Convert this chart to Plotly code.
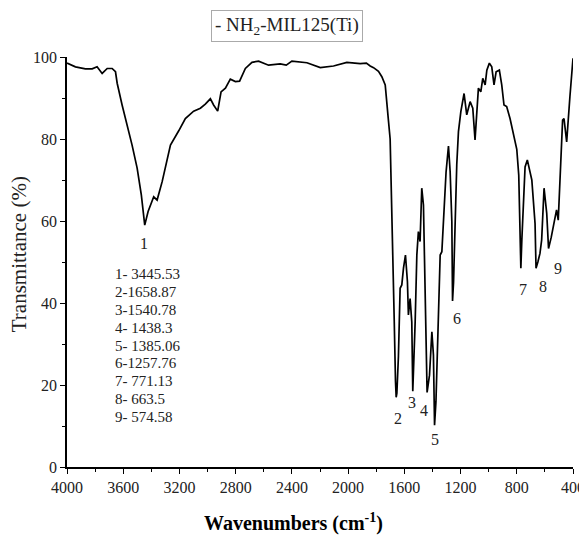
import plotly.graph_objects as go

# ---- data ----
wavenumber = [4000, 3940, 3869, 3821, 3786, 3750, 3714, 3679, 3655, 3643, 3608, 3572, 3537,
              3501, 3471, 3447, 3423, 3383, 3359, 3323, 3264, 3205, 3158, 3099, 3051, 3016,
              2980, 2957, 2928, 2904, 2873, 2838, 2802, 2772, 2731, 2684, 2637, 2566, 2483,
              2440, 2400, 2293, 2198, 2104, 2009, 1914, 1870, 1843, 1819, 1784, 1760, 1736,
              1724, 1713, 1701, 1696, 1688, 1682, 1672, 1663, 1658, 1653, 1642, 1630, 1618,
              1606, 1592, 1578, 1571, 1559, 1547, 1540, 1532, 1523, 1511, 1500, 1488, 1476,
              1464, 1452, 1438, 1421, 1404, 1393, 1385, 1375, 1369, 1357, 1345, 1333, 1322,
              1303, 1286, 1274, 1262, 1257, 1250, 1239, 1227, 1215, 1198, 1175, 1156, 1132,
              1113, 1097, 1084, 1073, 1056, 1042, 1025, 1013, 995, 978, 962, 947, 924, 907,
              891, 872, 848, 825, 800, 786, 777, 771, 764, 741, 725, 693, 670, 663, 650, 635,
              623, 606, 587, 574, 555, 540, 517, 505, 493, 474, 464, 445, 422, 400]
transmittance = [98.5, 97.6, 97.1, 97.1, 97.6, 96.0, 97.2, 97.2, 96.4, 93.6, 88.3, 83.4, 78.5,
                 72.9, 66.3, 59.0, 62.3, 65.9, 65.1, 69.6, 78.5, 82.0, 85.0, 86.8, 87.5, 88.5,
                 89.8, 88.3, 86.8, 91.5, 92.4, 94.6, 94.0, 94.1, 97.2, 98.7, 99.0, 98.0, 98.3,
                 98.0, 99.0, 98.6, 97.4, 97.8, 98.7, 98.4, 98.5, 97.8, 97.4, 96.5, 95.2, 93.2,
                 89.5, 84.5, 80.0, 73.0, 64.0, 55.0, 36.0, 21.0, 17.0, 18.0, 27.0, 43.6, 44.4,
                 48.5, 51.7, 45.2, 37.1, 41.1, 35.4, 18.5, 25.0, 35.4, 51.7, 57.4, 55.0, 68.0,
                 63.9, 43.6, 18.2, 22.4, 33.0, 27.3, 10.2, 16.0, 23.2, 43.6, 51.7, 52.5, 59.8,
                 72.0, 78.3, 72.0, 59.8, 40.5, 45.0, 59.8, 73.7, 81.8, 86.7, 91.1, 85.9, 89.1,
                 87.5, 79.8, 87.5, 92.4, 91.5, 94.8, 93.2, 96.8, 98.5, 97.6, 93.2, 96.4, 96.8, 93.2,
                 88.3, 87.9, 85.0, 81.0, 77.5, 71.2, 59.8, 48.5, 55.4, 73.2, 74.9, 70.0, 59.4, 48.5, 50.0, 52.1,
                 55.4, 68.0, 61.9, 53.3, 56.0, 58.6, 62.7, 60.2, 71.6, 84.6, 85.0, 79.3, 90.3, 99.7]

x_tick_vals = [4000, 3600, 3200, 2800, 2400, 2000, 1600, 1200, 800, 400]
y_tick_vals = [0, 20, 40, 60, 80, 100]

peak_numbers = ["1", "2", "3", "4", "5", "6", "7", "8", "9"]
peak_list = ["1- 3445.53", "2-1658.87", "3-1540.78", "4- 1438.3", "5- 1385.06",
             "6-1257.76", "7- 771.13", "8- 663.5", "9- 574.58"]

series_name = "NH<sub>2</sub>-MIL125(Ti)"

# ---- figure ----
SERIF = "Liberation Serif, Times New Roman, serif"
TXT = "#222222"

fig = go.Figure()
fig.add_trace(go.Scatter(x=wavenumber, y=transmittance, mode="lines",
                         line=dict(color="black", width=1.7), name=series_name,
                         showlegend=False))

# peak number labels (text placement, in data units)
label_pos = [(3454, 54.6), (1642, 11.9), (1547, 15.8), (1457, 13.7), (1381, 6.8),
             (1222, 36.3), (758, 43.3), (611, 44.1), (505, 48.5)]
for txt, (lx, ly) in zip(peak_numbers, label_pos):
    fig.add_annotation(x=lx, y=ly, text=txt, showarrow=False,
                       font=dict(family=SERIF, size=16, color=TXT),
                       xanchor="center", yanchor="middle")

# list of peak positions
list_x = 3670
list_top = 47.1
list_step = 4.37
for i, line in enumerate(peak_list):
    fig.add_annotation(x=list_x, y=list_top - i * list_step, text=line, showarrow=False,
                       font=dict(family=SERIF, size=15, color=TXT),
                       xanchor="left", yanchor="middle")

# legend-like title box
fig.add_annotation(xref="paper", yref="paper", x=0.435, y=1.0756,
                   text="- " + series_name, showarrow=False,
                   font=dict(family=SERIF, size=19, color=TXT),
                   bordercolor="#aaaaaa", borderwidth=1, borderpad=3, bgcolor="white",
                   xanchor="center", yanchor="middle")

# y axis title
fig.add_annotation(xref="paper", yref="paper", x=-0.096, y=0.52,
                   text="Transmittance (%)", textangle=-90, showarrow=False,
                   font=dict(family=SERIF, size=21, color=TXT),
                   xanchor="center", yanchor="middle")

# x axis title
fig.add_annotation(xref="paper", yref="paper", x=0.447, y=-0.135,
                   text="<b>Wavenumbers (cm<sup>-1</sup>)</b>", showarrow=False,
                   font=dict(family=SERIF, size=20, color="black"),
                   xanchor="center", yanchor="middle")

# page body adds an 8px offset, so the figure is sized to fit the window
fig.update_layout(
    width=579, height=527,
    margin=dict(l=58.5, r=14, t=49, b=68),
    paper_bgcolor="white", plot_bgcolor="white",
    showlegend=False,
)
fig.update_xaxes(range=[4000, 400], tickvals=x_tick_vals, ticks="outside", ticklen=5,
                 tickwidth=1.3, tickcolor="black", showline=True, linecolor="black",
                 linewidth=1.5, showgrid=False, zeroline=False, automargin=False,
                 tickfont=dict(family=SERIF, size=16, color=TXT),
                 minor=dict(tickvals=[3800, 3400, 3000, 2600, 2200, 1800, 1400, 1000, 600],
                            ticks="outside", ticklen=3, tickcolor="black", tickwidth=1.2))
fig.update_yaxes(range=[0, 100], tickvals=y_tick_vals, ticks="outside", ticklen=5,
                 tickwidth=1.3, tickcolor="black", showline=True, linecolor="black",
                 linewidth=1.5, showgrid=False, zeroline=False, automargin=False,
                 tickfont=dict(family=SERIF, size=16, color=TXT),
                 minor=dict(tickvals=[10, 30, 50, 70, 90],
                            ticks="outside", ticklen=3, tickcolor="black", tickwidth=1.2))

fig.write_html("out.html")
